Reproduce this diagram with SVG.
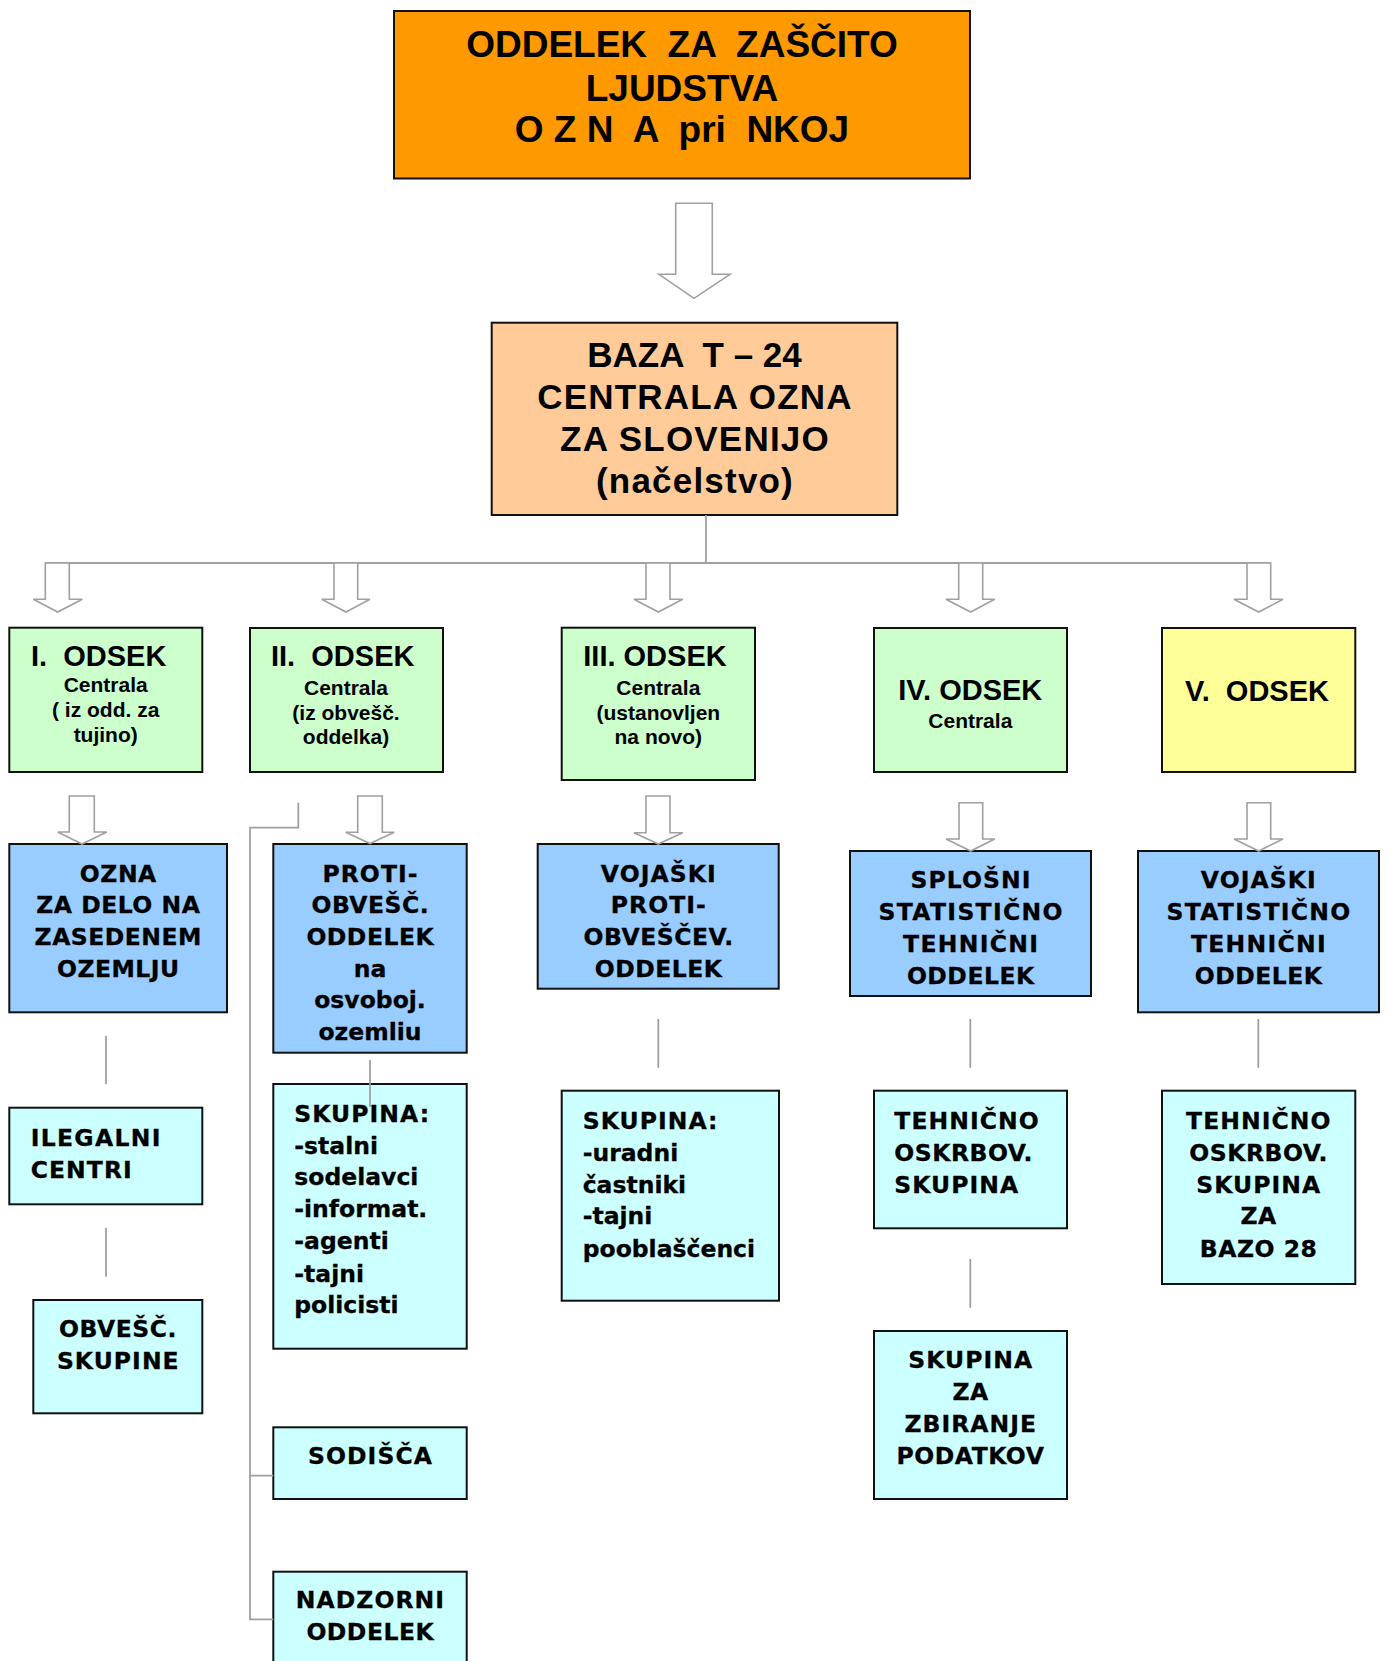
<svg xmlns="http://www.w3.org/2000/svg" width="1387" height="1661" viewBox="0 0 1387 1661">
<style>
.box{stroke:#111;stroke-width:2}
.or{fill:#FF9900}.pe{fill:#FFCC99}.gr{fill:#CCFFCC}.ye{fill:#FFFF99}.bl{fill:#99CCFF}.cy{fill:#CCFFFF}
.arr{fill:#fff;stroke:#a0a0a0;stroke-width:1.6;stroke-linejoin:miter}
.ln{fill:none;stroke:#a0a0a0;stroke-width:1.8}
.a{font-family:"Liberation Sans",Arial,sans-serif;font-weight:bold;fill:#000;white-space:pre}
.v{font-family:"DejaVu Sans",Verdana,sans-serif;font-weight:bold;fill:#000;stroke:#000;stroke-width:0.3;font-size:23.5px;white-space:pre}
.u0{letter-spacing:0.5px}.u1{letter-spacing:1.05px}.u2{letter-spacing:1.3px}
.big{font-size:37px}.baz{font-size:35px;letter-spacing:1.2px}.t{font-size:29px}.s{font-size:21px}
.m{text-anchor:middle}
</style>
<rect width="1387" height="1661" fill="#fff"/>
<g id="nodes">
<g id="oddelek">
<rect class="box or" x="394" y="11" width="576" height="167.5"/>
<text class="a big m" x="682" y="56.7">ODDELEK  ZA  ZAŠČITO</text>
<text class="a big m" x="682" y="100.7">LJUDSTVA</text>
<text class="a big m" x="682" y="141.7">O Z N  A  pri  NKOJ</text>
</g>
<g id="baza">
<rect class="box pe" x="491.7" y="322.7" width="405.6" height="192.3"/>
<text class="a baz m" x="694.5" y="366.7" style="letter-spacing:0">BAZA  T – 24</text>
<text class="a baz m" x="695" y="408.7">CENTRALA OZNA</text>
<text class="a baz m" x="695" y="451">ZA SLOVENIJO</text>
<text class="a baz m" x="695" y="493">(načelstvo)</text>
</g>
<g id="odsek1">
<rect class="box gr" x="9.3" y="627.7" width="193" height="144.3"/>
<text class="a t" x="31" y="665.7">I.  ODSEK</text>
<text class="a s m" x="105.7" y="692.3">Centrala</text>
<text class="a s m" x="105.7" y="716.7">( iz odd. za</text>
<text class="a s m" x="105.7" y="741.7">tujino)</text>
</g>
<g id="odsek2">
<rect class="box gr" x="250" y="628" width="193" height="144"/>
<text class="a t" x="271" y="665.7">II.  ODSEK</text>
<text class="a s m" x="346" y="695">Centrala</text>
<text class="a s m" x="346" y="720">(iz obvešč.</text>
<text class="a s m" x="346" y="744.3">oddelka)</text>
</g>
<g id="odsek3">
<rect class="box gr" x="561.7" y="627.7" width="193.3" height="152.3"/>
<text class="a t m" x="655" y="665.7">III. ODSEK</text>
<text class="a s m" x="658.3" y="695">Centrala</text>
<text class="a s m" x="658.3" y="720">(ustanovljen</text>
<text class="a s m" x="658.3" y="744.3">na novo)</text>
</g>
<g id="odsek4">
<rect class="box gr" x="874" y="628" width="193" height="144"/>
<text class="a t m" x="970.3" y="700">IV. ODSEK</text>
<text class="a s m" x="970.3" y="727.7">Centrala</text>
</g>
<g id="odsek5">
<rect class="box ye" x="1162" y="628" width="193.3" height="144"/>
<text class="a t m" x="1257" y="700.7">V.  ODSEK</text>
</g>
<g id="ozna-zasedeno">
<rect class="box bl" x="9.3" y="844" width="217.7" height="168.3"/>
<text class="v u0 m" x="118.3" y="881.7">OZNA</text>
<text class="v u0 m" x="118.3" y="913.3">ZA DELO NA</text>
<text class="v u0 m" x="118.3" y="945">ZASEDENEM</text>
<text class="v u0 m" x="118.3" y="976.7">OZEMLJU</text>
</g>
<g id="protiobvesc">
<rect class="box bl" x="273.3" y="844" width="193.4" height="208.7"/>
<text class="v u1 m" x="370.5" y="881.7">PROTI-</text>
<text class="v u0 m" x="370.3" y="913.3">OBVEŠČ.</text>
<text class="v u0 m" x="370.3" y="945">ODDELEK</text>
<text class="v m" x="370" y="976.7">na</text>
<text class="v m" x="370" y="1008">osvoboj.</text>
<text class="v m" x="370" y="1040">ozemliu</text>
</g>
<g id="vojaski-proti">
<rect class="box bl" x="537.7" y="844" width="241" height="144.7"/>
<text class="v u1 m" x="658.8" y="881.7">VOJAŠKI</text>
<text class="v u1 m" x="658.8" y="913.3">PROTI-</text>
<text class="v u0 m" x="658.6" y="945">OBVEŠČEV.</text>
<text class="v u0 m" x="658.6" y="976.7">ODDELEK</text>
</g>
<g id="splosni">
<rect class="box bl" x="850" y="851" width="241" height="145"/>
<text class="v u1 m" x="971" y="888.3">SPLOŠNI</text>
<text class="v u2 m" x="971.2" y="920">STATISTIČNO</text>
<text class="v u2 m" x="971.2" y="951.7">TEHNIČNI</text>
<text class="v u0 m" x="970.8" y="984">ODDELEK</text>
</g>
<g id="vojaski-stat">
<rect class="box bl" x="1138" y="851" width="241" height="161.3"/>
<text class="v u1 m" x="1258.8" y="888.3">VOJAŠKI</text>
<text class="v u2 m" x="1259" y="920">STATISTIČNO</text>
<text class="v u2 m" x="1259" y="951.7">TEHNIČNI</text>
<text class="v u0 m" x="1258.6" y="984">ODDELEK</text>
</g>
<g id="ilegalni">
<rect class="box cy" x="9.3" y="1107.7" width="193" height="96.6"/>
<text class="v u2" x="30.7" y="1145.7">ILEGALNI</text>
<text class="v u1" x="30.7" y="1177.7">CENTRI</text>
</g>
<g id="obvesc-skupine">
<rect class="box cy" x="33.3" y="1300" width="169" height="113.3"/>
<text class="v u0 m" x="118" y="1337.3">OBVEŠČ.</text>
<text class="v u1 m" x="118.3" y="1369.3">SKUPINE</text>
</g>
<g id="skupina2">
<rect class="box cy" x="273.3" y="1084" width="193.4" height="264.7"/>
<text class="v u1" x="294.3" y="1121.7">SKUPINA:</text>
<text class="v" x="294.3" y="1154">-stalni</text>
<text class="v" x="294.3" y="1185">sodelavci</text>
<text class="v" x="294.3" y="1217.3">-informat.</text>
<text class="v" x="294.3" y="1249.3">-agenti</text>
<text class="v" x="294.3" y="1281.7">-tajni</text>
<text class="v" x="294.3" y="1313.3">policisti</text>
</g>
<g id="sodisca">
<rect class="box cy" x="273.3" y="1427.3" width="193.4" height="71.7"/>
<text class="v u1 m" x="370.5" y="1464">SODIŠČA</text>
</g>
<g id="nadzorni">
<rect class="box cy" x="273.3" y="1571.7" width="193.4" height="110"/>
<text class="v u1 m" x="370.5" y="1608.3">NADZORNI</text>
<text class="v u0 m" x="370.3" y="1640">ODDELEK</text>
</g>
<g id="skupina3">
<rect class="box cy" x="561.7" y="1090.7" width="217.3" height="210"/>
<text class="v u1" x="582.7" y="1129">SKUPINA:</text>
<text class="v" x="582.7" y="1160.7">-uradni</text>
<text class="v" x="582.7" y="1192.7">častniki</text>
<text class="v" x="582.7" y="1224.3">-tajni</text>
<text class="v" x="582.7" y="1256.7">pooblaščenci</text>
</g>
<g id="tehnicno4">
<rect class="box cy" x="874" y="1090.7" width="193" height="137.6"/>
<text class="v u1" x="894.3" y="1129">TEHNIČNO</text>
<text class="v u0" x="894.3" y="1160.7">OSKRBOV.</text>
<text class="v u1" x="894.3" y="1192.7">SKUPINA</text>
</g>
<g id="zbiranje">
<rect class="box cy" x="874" y="1331" width="193" height="168"/>
<text class="v u1 m" x="970.8" y="1368.3">SKUPINA</text>
<text class="v u0 m" x="970.5" y="1400">ZA</text>
<text class="v u1 m" x="970.8" y="1432.3">ZBIRANJE</text>
<text class="v u0 m" x="970.5" y="1464.3">PODATKOV</text>
</g>
<g id="tehnicno5">
<rect class="box cy" x="1162" y="1090.7" width="193.3" height="193.3"/>
<text class="v u1 m" x="1258.8" y="1129">TEHNIČNO</text>
<text class="v u0 m" x="1258.6" y="1160.7">OSKRBOV.</text>
<text class="v u1 m" x="1258.8" y="1192.7">SKUPINA</text>
<text class="v u0 m" x="1258.6" y="1224.3">ZA</text>
<text class="v u0 m" x="1258.6" y="1256.7">BAZO 28</text>
</g>
</g>
<g id="connectors">
<polygon class="arr" points="675.7,203.3 712.3,203.3 712.3,274.3 730,274.3 694,298.3 659,274.3 675.7,274.3"/>
<path class="ln" d="M706,515V563M45.3,563H1270.7"/>
<polygon class="arr" points="45.3,563 69.3,563 69.3,599.3 82.3,599.3 57.7,612 33.3,599.3 45.3,599.3"/>
<polygon class="arr" points="334,563 357.7,563 357.7,599.3 370,599.3 346,612 321.7,599.3 334,599.3"/>
<polygon class="arr" points="646,563 670,563 670,599.3 682.7,599.3 658.3,612 634,599.3 646,599.3"/>
<polygon class="arr" points="958.7,563 982.7,563 982.7,599.3 994.7,599.3 970.7,612 946,599.3 958.7,599.3"/>
<polygon class="arr" points="1247,563 1270.7,563 1270.7,599.3 1283,599.3 1258.7,612 1234,599.3 1247,599.3"/>
<polygon class="arr" points="69.3,796 94.3,796 94.3,832 106.7,832 82,844 57.7,832 69.3,832"/>
<polygon class="arr" points="357.7,796 382.3,796 382.3,832.3 394.3,832.3 370,843.5 345.7,832.3 357.7,832.3"/>
<polygon class="arr" points="646,796 670,796 670,832.7 682.7,832.7 658.3,844 634,832.7 646,832.7"/>
<polygon class="arr" points="959,802.7 982.7,802.7 982.7,839 994.7,839 970.7,851 946,839 959,839"/>
<polygon class="arr" points="1247,802.7 1270.7,802.7 1270.7,839 1283,839 1258.7,851 1234,839 1247,839"/>
<path class="ln" d="M106,1035.7V1084.3M106,1227.7V1276.7M370,1060V1107M658.3,1019V1067.7M970.3,1019V1067.7M970.3,1259V1307.7M1258.3,1019V1067.7"/>
<path class="ln" d="M298.3,802.7V827.7H250V1619.3H273.3M250,1475.7H273.3"/>
</g>
</svg>
